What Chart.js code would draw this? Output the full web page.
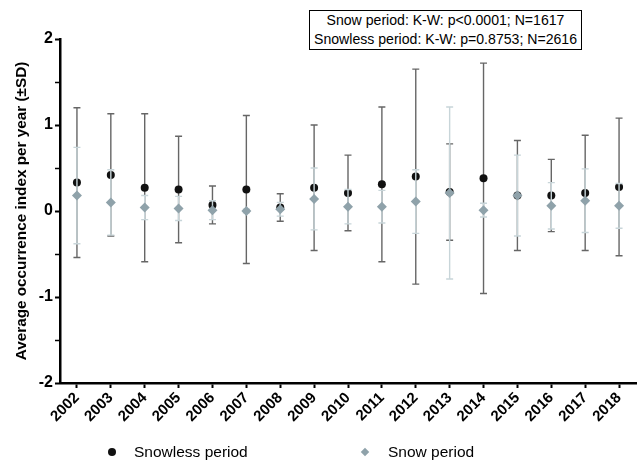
<!DOCTYPE html>
<html>
<head>
<meta charset="utf-8">
<script src="https://cdn.jsdelivr.net/npm/chart.js@4/dist/chart.umd.min.js"></script>
<style>
  html, body { margin: 0; padding: 0; background: #fff; }
  #wrap { position: relative; width: 641px; height: 463px; font-family: "Liberation Sans", Arial, sans-serif; }
  #c { position: absolute; left: 0; top: 0; }
  #stats { position: absolute; left: 309px; top: 10px; width: 271px; height: 38px; border: 1.5px solid #000;
           font-size: 14.1px; line-height: 19px; text-align: center; color: #000; background: #fff; white-space: nowrap; }
  .leg { position: absolute; top: 443px; font-size: 15.5px; line-height: 18px; color: #000; white-space: nowrap; }
  .mk { position: absolute; }
</style>
</head>
<body>
<div id="wrap">
  <canvas id="c" width="641" height="463"></canvas>
  <div id="stats">Snow period: K-W: p&lt;0.0001; N=1617<br>Snowless period: K-W: p=0.8753; N=2616</div>
  <div class="mk" style="left:108px;top:448px;width:8px;height:8px;border-radius:50%;background:#111;"></div>
  <div class="leg" style="left:134px;">Snowless period</div>
  <div class="mk" style="left:362px;top:449px;width:6px;height:6px;background:#8fa2aa;transform:rotate(45deg);"></div>
  <div class="leg" style="left:388px;">Snow period</div>
</div>
<script>
const years = ['2002','2003','2004','2005','2006','2007','2008','2009','2010','2011','2012','2013','2014','2015','2016','2017','2018'];
const snowlessMean = [0.33,0.42,0.27,0.25,0.07,0.25,0.04,0.27,0.21,0.31,0.40,0.22,0.38,0.18,0.18,0.21,0.28];
const snowlessSD   = [0.87,0.71,0.86,0.62,0.22,0.86,0.16,0.73,0.44,0.90,1.25,0.56,1.34,0.64,0.42,0.67,0.80];
const snowMean     = [0.18,0.10,0.04,0.03,0.01,0.00,0.02,0.14,0.05,0.05,0.11,0.21,0.01,0.18,0.06,0.12,0.06];
const snowSD       = [0.56,0.38,0.14,0.14,0.11,0.02,0.08,0.36,0.20,0.19,0.37,1.00,0.08,0.47,0.27,0.37,0.26];
const yTicks = [-2,-1,0,1,2];

const FONT = "'Liberation Sans', Arial, sans-serif";

const errorBars = {
  id: 'errorBars',
  beforeDatasetDraw(chart, args) {
    const ds = chart.data.datasets[args.index];
    if (!ds.sd) return;
    const y = chart.scales.y;
    const ctx = chart.ctx;
    ctx.save();
    ctx.strokeStyle = ds.barColor;
    ctx.lineWidth = 1.4;
    args.meta.data.forEach((pt, i) => {
      const m = ds.data[i], s = ds.sd[i];
      const yt = y.getPixelForValue(m + s);
      const yb = y.getPixelForValue(m - s);
      const x = pt.x;
      ctx.beginPath();
      ctx.moveTo(x, yt); ctx.lineTo(x, yb);
      ctx.moveTo(x - 3.5, yt); ctx.lineTo(x + 3.5, yt);
      ctx.moveTo(x - 3.5, yb); ctx.lineTo(x + 3.5, yb);
      ctx.stroke();
    });
    ctx.restore();
  }
};

new Chart(document.getElementById('c'), {
  type: 'line',
  data: {
    labels: years,
    datasets: [
      {
        label: 'Snowless period',
        data: snowlessMean,
        sd: snowlessSD,
        barColor: '#666666',
        showLine: false,
        pointStyle: 'circle',
        pointRadius: 4,
        pointHoverRadius: 4,
        pointBackgroundColor: '#111',
        pointBorderColor: '#111',
        pointBorderWidth: 0,
        order: 2
      },
      {
        label: 'Snow period',
        data: snowMean,
        sd: snowSD,
        barColor: '#c8d5d9',
        showLine: false,
        pointStyle: 'rectRot',
        pointRadius: 5,
        pointHoverRadius: 5,
        pointBackgroundColor: '#8fa2aa',
        pointBorderColor: '#8fa2aa',
        pointBorderWidth: 0,
        order: 1
      }
    ]
  },
  options: {
    responsive: false,
    animation: false,
    events: [],
    layout: { padding: { top: 39, right: 3, bottom: 0, left: 0 } },
    plugins: { legend: { display: false }, tooltip: { enabled: false } },
    scales: {
      x: {
        type: 'category',
        offset: true,
        afterFit(s) { s.height = 80; },
        border: { display: true, color: '#000', width: 2.5 },
        grid: { display: true, drawOnChartArea: false, drawTicks: true, offset: false, tickLength: 5, tickColor: '#000', tickWidth: 2 },
        ticks: { color: '#000', font: { family: FONT, size: 15, weight: 'bold' }, maxRotation: 45, minRotation: 45, padding: 1, autoSkip: false }
      },
      y: {
        min: -2, max: 2,
        afterFit(s) { s.width = 60; },
        afterBuildTicks(s) {
          const t = [];
          for (let i = 0; i < yTicks.length; i++) {
            t.push({ value: yTicks[i] });
            if (i < yTicks.length - 1) t.push({ value: (yTicks[i] + yTicks[i + 1]) / 2 });
          }
          s.ticks = t;
        },
        border: { display: true, color: '#000', width: 2.5 },
        grid: { display: true, drawOnChartArea: false, drawTicks: true, tickLength: 5, tickColor: '#000',
                tickWidth: (c) => Number.isInteger(c.tick.value) ? 2 : 1.5 },
        ticks: {
          color: '#000', padding: 2,
          font: { family: FONT, size: 16, weight: 'bold' },
          callback: (v) => yTicks.includes(v) ? String(v) : ''
        },
        title: {
          display: true,
          text: 'Average occurrence index per year (±SD)',
          color: '#000',
          font: { family: FONT, size: 15.3, weight: 'bold' },
          padding: { top: 13, bottom: 0 }
        }
      }
    }
  },
  plugins: [errorBars]
});
</script>
</body>
</html>
